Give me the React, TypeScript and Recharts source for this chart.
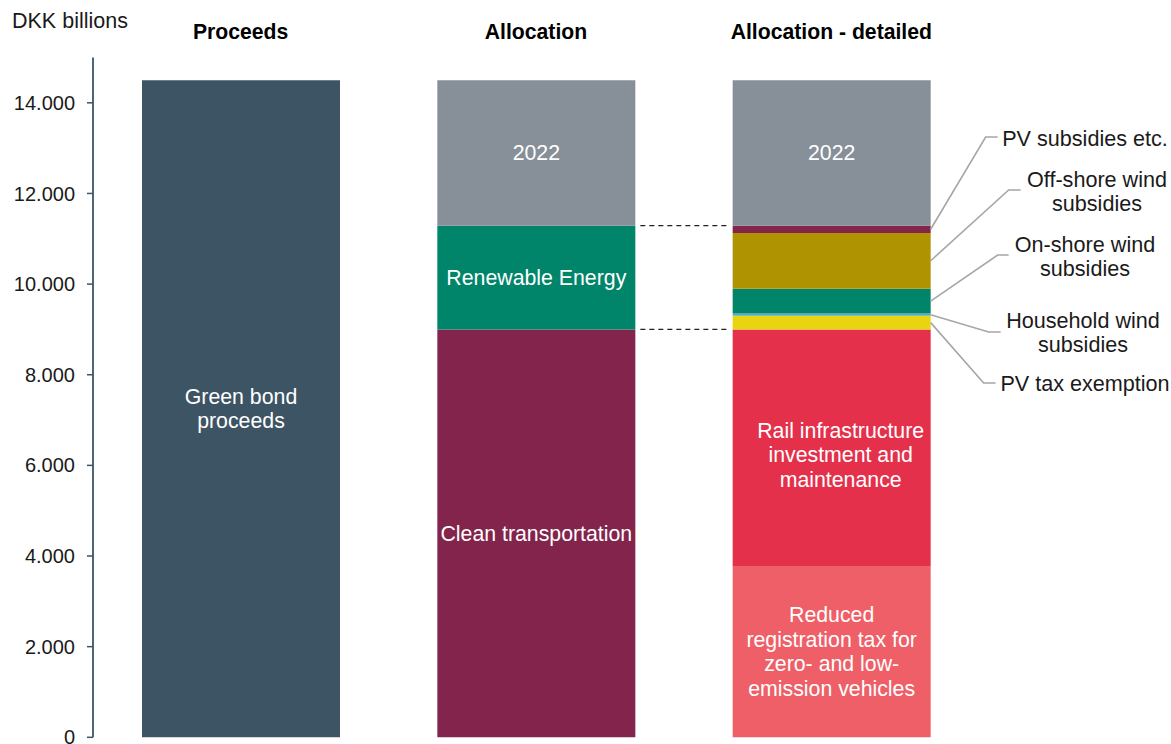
import React from 'react';
import { BarChart, Bar, XAxis, YAxis, LabelList, Label } from 'recharts';

// ---------- data ----------
const categories = ['Proceeds', 'Allocation', 'Allocation - detailed'];
const greenBondProceeds = [14500, 0, 0];
const cleanTransportation = [0, 9000, 0];
const renewableEnergy = [0, 2290, 0];
const reducedRegistrationTax = [0, 0, 3780];
const railInfrastructure = [0, 0, 5220];
const pvTaxExemption = [0, 0, 300];
const householdWindSubsidies = [0, 0, 50];
const onshoreWindSubsidies = [0, 0, 550];
const offshoreWindSubsidies = [0, 0, 1230];
const pvSubsidies = [0, 0, 160];
const remaining2022 = [0, 3210, 3210];
const yTicks = [0, 2000, 4000, 6000, 8000, 10000, 12000, 14000];
const yUnitLabel = 'DKK billions';

// text inside bars (per category)
const greenBondText = ['Green bond\nproceeds', '', ''];
const cleanTransportText = ['', 'Clean transportation', ''];
const renewableText = ['', 'Renewable Energy', ''];
const reducedRegText = ['', '', 'Reduced\nregistration tax for\nzero- and low-\nemission vehicles'];
const railText = ['', '', 'Rail infrastructure\ninvestment and\nmaintenance'];
const remainingText = ['', '2022', '2022'];
// leader-line annotations (per category)
const pvTaxText = ['', '', 'PV tax exemption'];
const householdText = ['', '', 'Household wind\nsubsidies'];
const onshoreText = ['', '', 'On-shore wind\nsubsidies'];
const offshoreText = ['', '', 'Off-shore wind\nsubsidies'];
const pvSubsidiesText = ['', '', 'PV subsidies etc.'];
const dashMarker = ['', 'dash', ''];

// ---------- layout / style ----------
const FONT = "'Liberation Sans', Arial, Helvetica, sans-serif";
const W = 1171;
const H = 744;
const MARGIN = { top: 27.5, right: 192, bottom: 6.7, left: 0 };
const Y_AXIS_W = 93;
const BAR_SIZE = 198;
const BAND = (W - MARGIN.right - MARGIN.left - Y_AXIS_W) / categories.length;
const GAP = BAND - BAR_SIZE;
const LINE_H = 24.5;
const IN_FS = 21.3;
const ANN_FS = 21.6;

const C = {
  slate: '#3d5464',
  grey: '#878f98',
  maroon: '#82244b',
  green: '#00856a',
  olive: '#b09300',
  yellow: '#e8d510',
  lightBlue: '#5aa9c9',
  red: '#e5304b',
  salmon: '#ee5f67',
  leader: '#a6a6a6',
};

const data = categories.map((category, i) => ({
  category,
  greenBondProceeds: greenBondProceeds[i],
  cleanTransportation: cleanTransportation[i],
  renewableEnergy: renewableEnergy[i],
  reducedRegistrationTax: reducedRegistrationTax[i],
  railInfrastructure: railInfrastructure[i],
  pvTaxExemption: pvTaxExemption[i],
  householdWindSubsidies: householdWindSubsidies[i],
  onshoreWindSubsidies: onshoreWindSubsidies[i],
  offshoreWindSubsidies: offshoreWindSubsidies[i],
  pvSubsidies: pvSubsidies[i],
  remaining2022: remaining2022[i],
  greenBondText: greenBondText[i],
  cleanTransportText: cleanTransportText[i],
  renewableText: renewableText[i],
  reducedRegText: reducedRegText[i],
  railText: railText[i],
  remainingText: remainingText[i],
  pvTaxText: pvTaxText[i],
  householdText: householdText[i],
  onshoreText: onshoreText[i],
  offshoreText: offshoreText[i],
  pvSubsidiesText: pvSubsidiesText[i],
  dashMarker: dashMarker[i],
}));

const box = (p: any) => {
  const vb = p.viewBox || {};
  return {
    x: Number(p.x ?? vb.x),
    y: Number(p.y ?? vb.y),
    width: Number(p.width ?? vb.width),
    height: Number(p.height ?? vb.height),
  };
};

const makeInside = (shiftX = 0, shiftY = 0) => (p: any) => {
  const text = p.value;
  if (!text || typeof text !== 'string') return null;
  const b = box(p);
  const lines = text.split('\n');
  const cx = b.x + b.width / 2 + shiftX;
  const cy = b.y + b.height / 2 + shiftY;
  const first = cy - ((lines.length - 1) * LINE_H) / 2;
  return (
    <text textAnchor="middle" fill="#ffffff" fontSize={IN_FS} fontFamily={FONT}>
      {lines.map((l, k) => (
        <tspan key={k} x={cx} y={first + k * LINE_H} dy="0.35em">
          {l}
        </tspan>
      ))}
    </text>
  );
};

type Ann = { elbowDx: number; elbowY: number; tail: number; textCx: number; textY: number };
const makeAnnotation = (a: Ann) => (p: any) => {
  const text = p.value;
  if (!text || typeof text !== 'string') return null;
  const b = box(p);
  const sx = b.x + b.width;
  const sy = b.y + b.height / 2;
  const ex = sx + a.elbowDx;
  const lines = text.split('\n');
  return (
    <g>
      <polyline
        points={`${sx},${sy} ${ex},${a.elbowY} ${ex + a.tail},${a.elbowY}`}
        fill="none"
        stroke={C.leader}
        strokeWidth={1.6}
      />
      <text textAnchor="middle" fill="#1a1a1a" fontSize={ANN_FS} fontFamily={FONT}>
        {lines.map((l, k) => (
          <tspan key={k} x={a.textCx} y={a.textY + k * LINE_H} dy="0.35em">
            {l}
          </tspan>
        ))}
      </text>
    </g>
  );
};

const DashConnectors = (p: any) => {
  if (p.value !== 'dash') return null;
  const b = box(p);
  const x1 = b.x + b.width + 5;
  const x2 = b.x + b.width + GAP - 4;
  return (
    <g stroke="#222" strokeWidth={1.3} strokeDasharray="5 4">
      <line x1={x1} x2={x2} y1={b.y} y2={b.y} />
      <line x1={x1} x2={x2} y1={b.y + b.height} y2={b.y + b.height} />
    </g>
  );
};

const TitleTick = (p: any) => (
  <text
    x={p.x}
    y={p.y}
    dy={-18.5}
    textAnchor="middle"
    fontWeight="bold"
    fontSize={21.2}
    fontFamily={FONT}
    fill="#000"
  >
    {p.payload?.value}
  </text>
);

const UnitLabel = (p: any) => {
  const vb = p.viewBox || { x: 0, y: 57.5 };
  return (
    <text x={vb.x + 12} y={vb.y - 30} fontSize={21.5} fontFamily={FONT} fill="#1a1a1a">
      {yUnitLabel}
    </text>
  );
};

const fmt = (v: number) => (v === 0 ? '0' : `${Math.round(v / 1000)}.000`);

export default function App() {
  return (
    <div style={{ position: 'absolute', left: 0, top: 0, width: W, height: H, background: '#fff' }}>
      <BarChart width={W} height={H} data={data} margin={MARGIN} barSize={BAR_SIZE}>
        <XAxis
          dataKey="category"
          orientation="top"
          axisLine={false}
          tickLine={false}
          tickSize={0}
          tickMargin={0}
          height={30}
          interval={0}
          tick={<TitleTick />}
        />
        <YAxis
          type="number"
          domain={[0, 15000]}
          ticks={yTicks}
          interval={0}
          tickFormatter={fmt}
          width={Y_AXIS_W}
          tickSize={6}
          tickMargin={12}
          axisLine={{ stroke: '#3d5466', strokeWidth: 1.8 }}
          tickLine={{ stroke: '#3d5466', strokeWidth: 1.5 }}
          tick={{ fill: '#1a1a1a', fontSize: 20, fontFamily: FONT }}
        >
          <Label content={<UnitLabel />} />
        </YAxis>

        <Bar dataKey="greenBondProceeds" stackId="a" fill={C.slate} isAnimationActive={false}>
          <LabelList dataKey="greenBondText" content={makeInside()} />
        </Bar>
        <Bar dataKey="cleanTransportation" stackId="a" fill={C.maroon} isAnimationActive={false}>
          <LabelList dataKey="cleanTransportText" content={makeInside()} />
        </Bar>
        <Bar dataKey="renewableEnergy" stackId="a" fill={C.green} isAnimationActive={false}>
          <LabelList dataKey="renewableText" content={makeInside()} />
          <LabelList dataKey="dashMarker" content={DashConnectors} />
        </Bar>
        <Bar dataKey="reducedRegistrationTax" stackId="a" fill={C.salmon} isAnimationActive={false}>
          <LabelList dataKey="reducedRegText" content={makeInside()} />
        </Bar>
        <Bar dataKey="railInfrastructure" stackId="a" fill={C.red} isAnimationActive={false}>
          <LabelList dataKey="railText" content={makeInside(9, 7)} />
        </Bar>
        <Bar dataKey="pvTaxExemption" stackId="a" fill={C.yellow} isAnimationActive={false}>
          <LabelList
            dataKey="pvTaxText"
            content={makeAnnotation({ elbowDx: 53, elbowY: 383, tail: 12, textCx: 1085, textY: 383 })}
          />
        </Bar>
        <Bar dataKey="householdWindSubsidies" stackId="a" fill={C.lightBlue} isAnimationActive={false}>
          <LabelList
            dataKey="householdText"
            content={makeAnnotation({ elbowDx: 58, elbowY: 332, tail: 12, textCx: 1083, textY: 320 })}
          />
        </Bar>
        <Bar dataKey="onshoreWindSubsidies" stackId="a" fill={C.green} isAnimationActive={false}>
          <LabelList
            dataKey="onshoreText"
            content={makeAnnotation({ elbowDx: 67, elbowY: 255, tail: 11, textCx: 1085, textY: 244 })}
          />
        </Bar>
        <Bar dataKey="offshoreWindSubsidies" stackId="a" fill={C.olive} isAnimationActive={false}>
          <LabelList
            dataKey="offshoreText"
            content={makeAnnotation({ elbowDx: 78, elbowY: 190, tail: 12, textCx: 1097, textY: 179 })}
          />
        </Bar>
        <Bar dataKey="pvSubsidies" stackId="a" fill={C.maroon} isAnimationActive={false}>
          <LabelList
            dataKey="pvSubsidiesText"
            content={makeAnnotation({ elbowDx: 55, elbowY: 137, tail: 12, textCx: 1085, textY: 138 })}
          />
        </Bar>
        <Bar dataKey="remaining2022" stackId="a" fill={C.grey} isAnimationActive={false}>
          <LabelList dataKey="remainingText" content={makeInside()} />
        </Bar>
      </BarChart>
    </div>
  );
}
